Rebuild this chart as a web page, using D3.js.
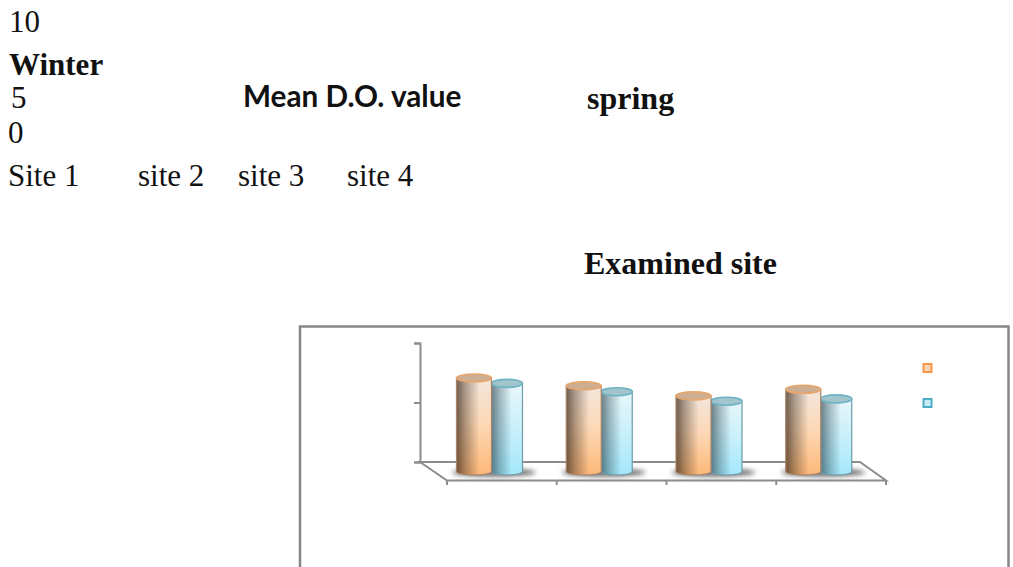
<!DOCTYPE html>
<html><head><meta charset="utf-8">
<script src="https://cdn.jsdelivr.net/npm/d3@7/dist/d3.min.js"></script>
<style>html,body{margin:0;padding:0;background:#fff}svg{display:block}</style>
</head><body><div id="c"></div>
<script>
const sites = ["Site 1","site 2","site 3","site 4"];
const seriesNames = ["Winter","spring"];
const winter = [8.15,7.5,6.65,7.2];
const spring = [7.7,7.0,6.2,6.4];
const yTicks = [0,5,10];

const W=1013,H=567;
const svg=d3.select("#c").append("svg").attr("width",W).attr("height",H).attr("viewBox",[0,0,W,H]);
const defs=svg.append("defs");
function lin(id,x2,y2,stops){
  const g=defs.append("linearGradient").attr("id",id).attr("x1",0).attr("y1",0).attr("x2",x2).attr("y2",y2);
  stops.forEach(s=>g.append("stop").attr("offset",s[0]).attr("stop-color",s[1]).attr("stop-opacity",s[2]===undefined?1:s[2]));
}
lin("bodyO",0,1,[[0,"#f2e6dc"],[0.45,"#fdd9b8"],[1,"#fdb878"]]);
lin("bodyB",0,1,[[0,"#e8f6fa"],[0.5,"#c8f0fb"],[1,"#a4e8fb"]]);
lin("shade",1,0,[[0,"#3a2a1c",0.72],[0.25,"#3a2a1c",0.4],[0.65,"#3a2a1c",0],[1,"#3a2a1c",0]]);
lin("shadeB",1,0,[[0,"#1f3a44",0.62],[0.28,"#1f3a44",0.32],[0.65,"#1f3a44",0],[1,"#1f3a44",0]]);
defs.append("filter").attr("id","soft").attr("x","-30%").attr("y","-100%").attr("width","160%").attr("height","300%")
  .append("feGaussianBlur").attr("stdDeviation",2.5);
defs.append("filter").attr("id","slight").append("feGaussianBlur").attr("stdDeviation",0.5);

// text block
const serif="'Liberation Serif','Times New Roman',serif";
const texts=[
 ["10",9,32,serif,31,400],
 [seriesNames[0],9,75,serif,31,700],
 ["5",11,108,serif,31,400],
 ["0",8,143,serif,31,400],
 [sites[0],8,186,serif,31,400],
 [sites[1],138,186,serif,31,400],
 [sites[2],238,186,serif,31,400],
 [sites[3],347,186,serif,31,400],
 ["Mean D.O. value",243,107,"Lato,Carlito,sans-serif",29.7,700],
 [seriesNames[1],587,109,serif,32,700],
 ["Examined site",584,274,serif,32,700]
];
svg.append("g").selectAll("text").data(texts).join("text")
  .attr("x",d=>d[1]).attr("y",d=>d[2]).attr("font-family",d=>d[3]).attr("font-size",d=>d[4]).attr("font-weight",d=>d[5]).attr("fill","#111").text(d=>d[0]);

// frame (runs off the page bottom)
svg.append("path").attr("d","M300,567V326.5H1008.5V567").attr("fill","none").attr("stroke","#868686").attr("stroke-width",2.5);

const gray="#8c8c8c";
const y=d3.scaleLinear().domain([0,10]).range([462,343]);
const x0=d3.scaleBand().domain(sites).range([447,886]);
const floorDrop=13; // cylinders stand forward of the back wall
const chart=svg.append("g").attr("filter","url(#slight)");

// floor
const f=chart.append("g").attr("fill","none").attr("stroke",gray).attr("stroke-width",2);
f.append("path").attr("d",`M420,${y(0)}L${x0.range()[0]},${y(0)+18.5}H${x0.range()[1]}L860,${y(0)}Z`);
// y axis
const ya=d3.axisLeft(y).tickValues(yTicks).tickSize(6).tickFormat("");
chart.append("g").attr("transform","translate(420,0)").call(ya)
  .call(g=>g.selectAll("path,line").attr("stroke",gray).attr("stroke-width",2));
// x ticks
const edges=sites.map(s=>x0(s)).concat(x0.range()[1]);
chart.append("g").selectAll("line").data(edges).join("line")
  .attr("x1",d=>d).attr("x2",d=>d).attr("y1",y(0)+18.5).attr("y2",y(0)+23).attr("stroke",gray).attr("stroke-width",2);

const series=[
 {vals:winter,off:9.5,w:35,body:"url(#bodyO)",shade:"url(#shade)",cap:"#cdae92",edge:"#e8a66a",line:"#a98468",ry:4},
 {vals:spring,off:44.5,w:31,body:"url(#bodyB)",shade:"url(#shadeB)",cap:"#a2c4cc",edge:"#6cb4c4",line:"#6f9aa6",ry:4}
];
const base=y(0)+floorDrop;
function cyl(g,x,w,topY,s){
  const rx=w/2, cx=x+rx;
  const d=`M${x},${topY}V${base-3.5}A${rx},${s.ry-0.5} 0 0 0 ${x+w},${base-3.5}V${topY}Z`;
  g.append("path").attr("d",d).attr("fill",s.body);
  g.append("path").attr("d",d).attr("fill",s.shade).attr("stroke",s.line).attr("stroke-width",1.2);
  g.append("ellipse").attr("cx",cx).attr("cy",topY).attr("rx",rx).attr("ry",s.ry).attr("fill",s.cap).attr("stroke",s.edge).attr("stroke-width",1.6);
}
// shadows
const sh=chart.append("g");
sites.forEach((site,i)=>{
  sh.append("ellipse").attr("cx",x0(site)+47).attr("cy",base-2.5).attr("rx",42).attr("ry",4)
    .attr("fill","#444").attr("opacity",.8).attr("filter","url(#soft)");
});
sites.forEach((site,i)=>{
  [series[1],series[0]].forEach(s=>{
    cyl(chart.append("g"),x0(site)+s.off,s.w,y(s.vals[i])+floorDrop,s);
  });
});

// legend markers (labels are absent in the reference)
const lg=chart.append("g");
lg.selectAll("rect").data([{c:"#f79646",f:"#fcd5b4",y:368},{c:"#4bacc6",f:"#c5ecf6",y:403}]).join("rect")
  .attr("x",923.5).attr("y",d=>d.y-4).attr("width",8).attr("height",8)
  .attr("fill",d=>d.f).attr("stroke",d=>d.c).attr("stroke-width",2);
</script></body></html>
